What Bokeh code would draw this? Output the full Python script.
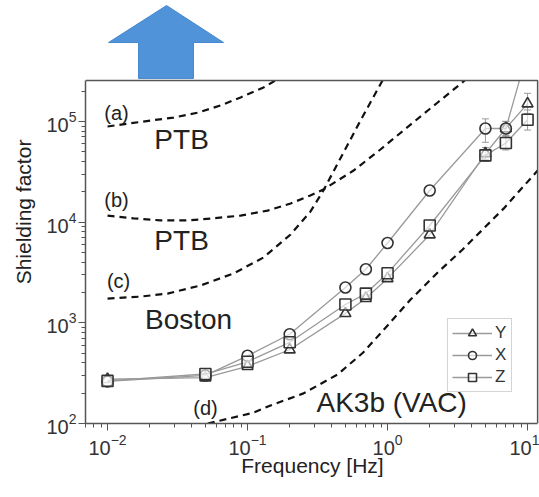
from bokeh.plotting import figure
from bokeh.models import (ColumnDataSource, Range1d, FixedTicker, Whisker, TeeHead,
                          Legend, LegendItem)
from bokeh.core.properties import value
from bokeh.embed import file_html
from bokeh.resources import INLINE

# ---------------- data ----------------
freq = [0.01, 0.05, 0.1, 0.2, 0.5, 0.7, 1, 2, 5, 7, 10]
shield_Y = [275, 285, 370, 540, 1240, 1750, 2760, 7500, 48000, 85000, 150000]
shield_X = [262, 300, 470, 770, 2240, 3400, 6200, 20600, 85000, 85000, 490000]
shield_Z = [265, 310, 410, 640, 1520, 1950, 3100, 9250, 46000, 61000, 104000]

err_f_X = [5, 7]
err_lo_X = [62000, 70000]
err_hi_X = [106000, 100000]
err_f_Y = [5, 7, 10]
err_lo_Y = [42000, 72000, 120000]
err_hi_Y = [55000, 100000, 190000]
err_f_Z = [5, 7, 10]
err_lo_Z = [40000, 52000, 82000]
err_hi_Z = [52000, 72000, 130000]

# reference curves (a) PTB, (b) PTB, (c) Boston, (d) AK3b (VAC)
ref_a_f = [0.01, 0.0203, 0.0296, 0.0439, 0.0641, 0.0892, 0.130, 0.158]
ref_a_v = [89000, 102000, 109000, 122000, 144000, 173000, 217000, 255000]
ref_b_f = [0.01, 0.0153, 0.0239, 0.0373, 0.0572, 0.089, 0.139, 0.203, 0.281, 0.348, 0.572, 0.889, 1.46, 2.28, 3.56]
ref_b_v = [11600, 10900, 10400, 10400, 10900, 11600, 13000, 15300, 18400, 21100, 32500, 52600, 93000, 154000, 255000]
ref_c_f = [0.01, 0.0172, 0.0268, 0.0461, 0.0794, 0.130, 0.203, 0.281, 0.348, 0.460, 0.641, 0.920]
ref_c_v = [1740, 1820, 1950, 2345, 3090, 4450, 7530, 12700, 20600, 42800, 102000, 255000]
ref_d_f = [0.052, 0.11, 0.146, 0.251, 0.44, 0.67, 1.0, 1.46, 2.28, 3.44, 6.74, 11.8]
ref_d_v = [100, 128, 151, 199, 307, 507, 940, 1700, 3160, 5350, 13600, 32500]

x_major = [0.01, 0.1, 1, 10]
y_major = [100, 1000, 10000, 100000]

labels = ["(a)", "PTB", "(b)", "PTB", "(c)", "Boston", "(d)", "AK3b (VAC)"]

# plot box limits (visible frame) and extended drawing area above it
x_lo, x_hi = 0.00696, 11.8
y_lo, y_hi = 100, 255000
y_top = 1.587e6
x_end = 12.17

# ---------------- main figure ----------------
p = figure(width=539, height=497, x_axis_type="log", y_axis_type="log",
           x_range=Range1d(x_lo, x_end), y_range=Range1d(y_lo, y_top),
           output_backend="svg", toolbar_location=None,
           min_border_left=85, min_border_right=0, min_border_top=0, min_border_bottom=74)
p.grid.visible = False
p.outline_line_color = None
p.background_fill_color = "white"
p.border_fill_color = "white"

x_minor = [k * 10.0 ** e for e in range(-3, 2) for k in range(2, 10)]
y_minor = [k * 10.0 ** e for e in range(1, 6) for k in range(2, 10) if k * 10.0 ** e < y_hi]
p.xaxis.ticker = FixedTicker(ticks=x_major, minor_ticks=x_minor)
p.yaxis.ticker = FixedTicker(ticks=y_major, minor_ticks=y_minor)
p.yaxis.bounds = (y_lo, y_hi)
p.xaxis.bounds = (x_lo, x_hi)

for ax in (p.xaxis[0], p.yaxis[0]):
    ax.axis_line_color = "#555555"
    ax.axis_line_width = 1.5
    ax.major_tick_line_color = "#555555"
    ax.minor_tick_line_color = "#555555"
    ax.major_tick_out = 7
    ax.major_tick_in = 0
    ax.minor_tick_out = 4
    ax.minor_tick_in = 0
    ax.major_label_text_font = "Liberation Sans"
    ax.major_label_text_font_size = "20px"
    ax.major_label_text_color = "#333333"
    ax.axis_label_text_font = "Liberation Sans"
    ax.axis_label_text_font_size = "21px"
    ax.axis_label_text_font_style = "normal"
    ax.axis_label_text_color = "#222222"

p.xaxis.axis_label = "Frequency [Hz]"
p.yaxis.axis_label = "Shielding factor"
p.xaxis.major_label_standoff = 3
p.xaxis.axis_label_standoff = -4
p.yaxis.major_label_standoff = 2
p.yaxis.axis_label_standoff = 8

# reference dashed curves
for fx, vy in ((ref_a_f, ref_a_v), (ref_b_f, ref_b_v), (ref_c_f, ref_c_v), (ref_d_f, ref_d_v)):
    p.line(fx, vy, line_color="#111111", line_width=2.2, line_dash="7 5")

# measured series
series = [("Y", shield_Y, "triangle", err_f_Y, err_lo_Y, err_hi_Y),
          ("X", shield_X, "circle", err_f_X, err_lo_X, err_hi_X),
          ("Z", shield_Z, "square", err_f_Z, err_lo_Z, err_hi_Z)]
items = []
for name, vals, marker, ef, elo, ehi in series:
    esrc = ColumnDataSource(dict(f=ef, lo=elo, hi=ehi))
    w = Whisker(base="f", lower="lo", upper="hi", source=esrc, dimension="height",
                line_color="#999999", line_width=1,
                upper_head=TeeHead(size=7, line_color="#999999", line_width=1),
                lower_head=TeeHead(size=7, line_color="#999999", line_width=1))
    p.add_layout(w)
for name, vals, marker, ef, elo, ehi in series:
    src = ColumnDataSource(dict(f=freq, v=vals))
    lr = p.line("f", "v", source=src, line_color="#9a9a9a", line_width=1.3)
    sr = p.scatter("f", "v", source=src, marker=marker, size=11,
                   line_color="#333333", line_width=1.6, fill_color="white", fill_alpha=0.6)
    items.append(LegendItem(label=name, renderers=[lr, sr]))

# mask above the plot box, then the box's top and right edges
p.quad(left=[x_lo], right=[x_end], bottom=[y_hi], top=[y_top * 1.2],
       fill_color="white", line_color=None)
p.line([x_lo, x_hi, x_hi], [y_hi, y_hi, y_lo], line_color="#555555", line_width=1.5)

# blue up-arrow above the plot box
arrow_f = [0.02638, 0.0674, 0.0411, 0.0411, 0.01665, 0.01665, 0.01017]
arrow_v = [1.416e6, 6.07e5, 6.07e5, 2.67e5, 2.67e5, 6.07e5, 6.07e5]
p.patch(arrow_f, arrow_v, fill_color="#5093d8", line_color="#4689d0", line_width=1)

legend = Legend(items=items, location=(362, 31), orientation="vertical",
                label_text_font="Liberation Sans", label_text_font_size="17px",
                label_text_color="#333333", glyph_width=40, glyph_height=20,
                label_standoff=3, label_width=12, spacing=2, padding=4, margin=0,
                border_line_color="#aaaaaa", border_line_width=1.5,
                background_fill_color="white", background_fill_alpha=1)
p.add_layout(legend)

# text labels
lab_f = [0.0116, 0.0338, 0.0116, 0.0338, 0.0120, 0.0379, 0.0501, 1.07]
lab_v = [122000, 66000, 16400, 6560, 2630, 1080, 144, 162]
lab_size = ["20px", "28px", "20px", "28px", "20px", "28px", "20px", "28px"]
lsrc = ColumnDataSource(dict(f=lab_f, v=lab_v, t=labels, s=lab_size))
p.text("f", "v", text="t", source=lsrc, text_font=value("Liberation Sans"),
       text_font_size="s", text_align="center", text_baseline="middle",
       text_color="#222222")

open("out.html", "w").write(file_html(p, INLINE))
